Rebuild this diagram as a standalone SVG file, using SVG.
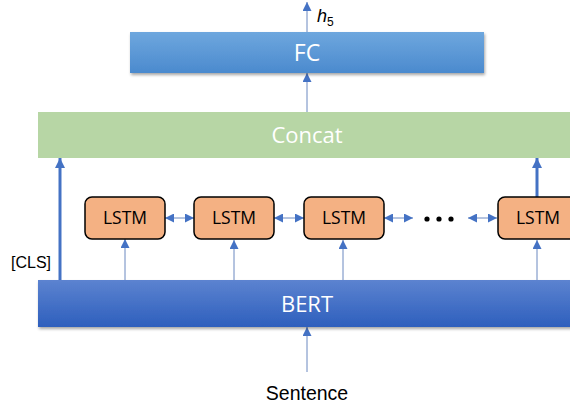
<svg xmlns="http://www.w3.org/2000/svg" width="570" height="408" viewBox="0 0 570 408">
<style>
.wt{font-family:"Open Sans","Liberation Sans",sans-serif;fill:#fff;text-anchor:middle}
.lt{font-family:"Open Sans","Liberation Sans",sans-serif;font-size:17.5px;fill:#000;text-anchor:middle}
.ar{font-family:"Liberation Sans",Arial,sans-serif;fill:#000}
.lstm{fill:#f4b183;stroke:#000;stroke-width:1.5}
.thin{stroke:#6b88c0;stroke-width:1;fill:none}
.thick{stroke:#4472c4;stroke-width:3;fill:none}
</style>
<defs>
<linearGradient id="gFC" x1="0" y1="0" x2="0" y2="1"><stop offset="0" stop-color="#6ea7de"/><stop offset="1" stop-color="#4b8ace"/></linearGradient>
<linearGradient id="gB" x1="0" y1="0" x2="0" y2="1"><stop offset="0" stop-color="#5c83d0"/><stop offset="1" stop-color="#2e5fbd"/></linearGradient>
<filter id="sh" x="-5%" y="-20%" width="110%" height="150%"><feDropShadow dx="1" dy="2" stdDeviation="1.5" flood-color="#000" flood-opacity="0.35"/></filter>
<marker id="ah" viewBox="0 0 10 10" refX="10" refY="5" markerWidth="9" markerHeight="9" markerUnits="userSpaceOnUse" orient="auto-start-reverse"><path d="M0,0 L10,5 L0,10 z" fill="#4472c4"/></marker>
<marker id="ahb" viewBox="0 0 10 10" refX="10" refY="5" markerWidth="13" markerHeight="10" markerUnits="userSpaceOnUse" orient="auto"><path d="M0,0 L10,5 L0,10 z" fill="#4472c4"/></marker>
</defs>
<g id="connectors">
<line class="thin" x1="307" y1="32" x2="307" y2="2" marker-end="url(#ah)"/>
<line class="thin" x1="307" y1="112" x2="307" y2="73" marker-end="url(#ah)"/>
<line class="thick" x1="60" y1="280" x2="60" y2="158" marker-end="url(#ahb)"/>
<line class="thick" x1="537" y1="197" x2="537" y2="158" marker-end="url(#ahb)"/>
<line class="thin" x1="125" y1="280" x2="125" y2="239" marker-end="url(#ah)"/>
<line class="thin" x1="234" y1="280" x2="234" y2="240" marker-end="url(#ah)"/>
<line class="thin" x1="343" y1="280" x2="343" y2="240" marker-end="url(#ah)"/>
<line class="thin" x1="537" y1="280" x2="537" y2="240" marker-end="url(#ah)"/>
<line class="thin" x1="165" y1="218" x2="194" y2="218" marker-start="url(#ah)" marker-end="url(#ah)"/>
<line class="thin" x1="274" y1="218" x2="304" y2="218" marker-start="url(#ah)" marker-end="url(#ah)"/>
<line class="thin" x1="384" y1="218" x2="413" y2="218" marker-start="url(#ah)" marker-end="url(#ah)"/>
<line class="thin" x1="468" y1="218" x2="497" y2="218" marker-start="url(#ah)" marker-end="url(#ah)"/>
<line class="thin" x1="307" y1="372" x2="307" y2="327" marker-end="url(#ah)"/>
</g>
<g id="fc">
<rect x="130" y="32" width="354" height="41" fill="url(#gFC)" filter="url(#sh)"/>
<text class="wt" x="307" y="61" font-size="23">FC</text>
</g>
<g id="h5">
<text class="ar" x="317" y="22" font-size="18" font-style="italic">h<tspan font-size="12" font-style="normal" dy="4">5</tspan></text>
</g>
<g id="concat">
<rect x="38" y="112" width="540" height="46" fill="#b7d6a5"/>
<text class="wt" x="307" y="143" font-size="22">Concat</text>
</g>
<g id="lstm1"><rect class="lstm" x="85" y="197" width="80" height="42" rx="7"/><text class="lt" x="125" y="224">LSTM</text></g>
<g id="lstm2"><rect class="lstm" x="194" y="197" width="80" height="42" rx="7"/><text class="lt" x="234" y="224">LSTM</text></g>
<g id="lstm3"><rect class="lstm" x="304" y="197" width="80" height="42" rx="7"/><text class="lt" x="344" y="224">LSTM</text></g>
<g id="dots"><circle cx="427" cy="219" r="2.6"/><circle cx="439" cy="219" r="2.6"/><circle cx="451" cy="219" r="2.6"/></g>
<g id="lstm4"><rect class="lstm" x="498" y="197" width="80" height="42" rx="7"/><text class="lt" x="538" y="224">LSTM</text></g>
<g id="cls"><text class="ar" x="11" y="268" font-size="16">[CLS]</text></g>
<g id="bert">
<rect x="38" y="280" width="540" height="47" fill="url(#gB)" filter="url(#sh)"/>
<text class="wt" x="307" y="312" font-size="22">BERT</text>
</g>
<g id="sentence"><text class="ar" x="307" y="400" font-size="19.5" text-anchor="middle">Sentence</text></g>
</svg>
